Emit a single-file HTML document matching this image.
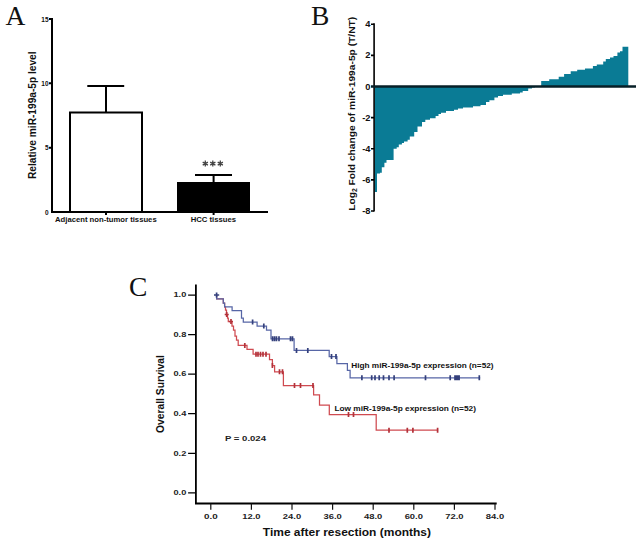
<!DOCTYPE html>
<html><head><meta charset="utf-8">
<style>
html,body{margin:0;padding:0;background:#fff;}
body{width:642px;height:543px;overflow:hidden;position:relative;}
svg{position:absolute;left:0;top:0;}
text{font-family:"Liberation Sans",sans-serif;}
.serif{font-family:"Liberation Serif",serif;}
</style></head><body>
<svg width="642" height="543" viewBox="0 0 642 543">
<rect width="642" height="543" fill="#fff"/>

<!-- ===== Panel A ===== -->
<text class="serif" x="5.5" y="25.2" font-size="27.5" fill="#111">A</text>
<g stroke="#000" stroke-width="2" fill="none">
  <path d="M52,18V213"/>
  <path d="M51,212H268"/>
  <path d="M49,19H52M49,83.3H52M49,147.7H52"/>
  <path d="M106,212V215M213.6,212V215"/>
  <rect x="70" y="112.5" width="72" height="99.5" fill="#fff"/>
  <path d="M106,86V112.5M87.3,86H124.2"/>
  <path d="M213.6,175V182M195,175H232"/>
</g>
<rect x="177" y="182" width="73" height="30" fill="#000"/>
<g font-weight="bold" fill="#111" text-anchor="end" font-size="6.5">
  <text x="48.5" y="21.5">15</text>
  <text x="48.5" y="85.8">10</text>
  <text x="48.5" y="150.2">5</text>
  <text x="48.5" y="214.5">0</text>
</g>
<g stroke="#444" stroke-width="1.3" fill="none"><path d="M205.3,160.6V166.6M202.7,162.1L207.9,165.1M202.7,165.1L207.9,162.1"/><path d="M212.8,160.6V166.6M210.2,162.1L215.4,165.1M210.2,165.1L215.4,162.1"/><path d="M220.3,160.6V166.6M217.7,162.1L222.9,165.1M217.7,165.1L222.9,162.1"/></g>
<g font-weight="bold" fill="#111" font-size="7.7">
  <text x="55" y="222">Adjacent non-tumor tissues</text>
  <text x="190.7" y="222">HCC tissues</text>
</g>
<text transform="translate(36,179) rotate(-90)" font-size="10" font-weight="bold" fill="#111" textLength="127.6" lengthAdjust="spacingAndGlyphs">Relative miR-199a-5p level</text>

<!-- ===== Panel B ===== -->
<text class="serif" x="311" y="24.8" font-size="27.5" fill="#111">B</text>
<path fill="#0a7b95" d="M374.6,86.5V192H377V173.5H380V172.8H381.8V167.3H384.4V162.7H386.5V160.1H393.6V148.8H396.7V147.2H398.8V144.6H401.9V143H404V141.5H407.6V139.7H409.8V136.4H414.2V132H417.5V126.4H422V122H425.3V119.8H430V118.3H435.6V116H438.5V114H441V112.7H446V111H454V109.8H458V108.5H463V107.5H473V106.3H480.5V105H486V102H489.4V100.3H494.4V97.4H498V96H503V94.8H511.8V93.5H520V92.5H522.7V91H528.2V88.4H532V87.5H535V86.5Z"/>
<path fill="#0a7b95" d="M541.2,86.5V80.9H549.2V79.2H558.7V76.7H564.1V74.1H570.7V71.2H577.2V69.7H585V68.5H592.9V66H596.8V64.5H603.2V61.5H605.8V59H610V57.5H613.5V56H617.4V52.6H620V51.3H622.5V46.8H628.3V86.5Z"/>
<g stroke="#000" stroke-width="1.6" fill="none">
  <path d="M374.1,23.3V211.5"/>
  <path d="M371,24.3H374M371,55.4H374M371,117.6H374M371,148.7H374M371,179.9H374M371,211H374"/>
</g>
<path d="M371,86.5H636" stroke="#071f27" stroke-width="2.6"/>
<g font-weight="bold" fill="#111" text-anchor="end" font-size="9.3">
  <text x="370.5" y="27.3">4</text>
  <text x="370.5" y="58.4">2</text>
  <text x="370.5" y="89.5">0</text>
  <text x="370.5" y="120.6">-2</text>
  <text x="370.5" y="151.7">-4</text>
  <text x="370.5" y="182.9">-6</text>
  <text x="370.5" y="214">-8</text>
</g>
<text transform="translate(355.2,210.8) rotate(-90)" font-size="9.9" font-weight="bold" fill="#111" textLength="194" lengthAdjust="spacingAndGlyphs">Log<tspan font-size="6.5" dy="2">2</tspan><tspan dy="-2"> Fold change of miR-199a-5p (T/NT)</tspan></text>

<!-- ===== Panel C ===== -->
<text class="serif" x="129" y="295.5" font-size="27.5" fill="#111">C</text>
<g stroke="#000" stroke-width="1.8" fill="none">
  <path d="M195.9,284.4V503.5"/>
  <path d="M195,503.5H496.7"/>
  <path d="M188.1,295.1H195.9M188.1,334.6H195.9M188.1,374.2H195.9M188.1,413.7H195.9M188.1,453.3H195.9M188.1,492.8H195.9" stroke-width="1.2"/>
</g>
<g stroke="#111" stroke-width="1.2" fill="none">
  <path d="M210.8,503.5V509.8M251.4,503.5V509.8M292.0,503.5V509.8M332.6,503.5V509.8M373.2,503.5V509.8M413.8,503.5V509.8M454.4,503.5V509.8M495.0,503.5V509.8"/>
</g>
<g font-weight="bold" fill="#222" text-anchor="end" font-size="7.8">
  <text x="186.3" y="297.3" textLength="12.8" lengthAdjust="spacingAndGlyphs">1.0</text>
  <text x="186.3" y="336.8" textLength="12.8" lengthAdjust="spacingAndGlyphs">0.8</text>
  <text x="186.3" y="376.4" textLength="12.8" lengthAdjust="spacingAndGlyphs">0.6</text>
  <text x="186.3" y="415.9" textLength="12.8" lengthAdjust="spacingAndGlyphs">0.4</text>
  <text x="186.3" y="455.5" textLength="12.8" lengthAdjust="spacingAndGlyphs">0.2</text>
  <text x="186.3" y="495.0" textLength="12.8" lengthAdjust="spacingAndGlyphs">0.0</text>
</g>
<g font-weight="bold" fill="#222" text-anchor="middle" font-size="7.8">
  <text x="210.8" y="518.8" textLength="13.7" lengthAdjust="spacingAndGlyphs">0.0</text>
  <text x="251.4" y="518.8" textLength="18.3" lengthAdjust="spacingAndGlyphs">12.0</text>
  <text x="292.0" y="518.8" textLength="18.3" lengthAdjust="spacingAndGlyphs">24.0</text>
  <text x="332.6" y="518.8" textLength="18.3" lengthAdjust="spacingAndGlyphs">36.0</text>
  <text x="373.2" y="518.8" textLength="18.3" lengthAdjust="spacingAndGlyphs">48.0</text>
  <text x="413.8" y="518.8" textLength="18.3" lengthAdjust="spacingAndGlyphs">60.0</text>
  <text x="454.4" y="518.8" textLength="18.3" lengthAdjust="spacingAndGlyphs">72.0</text>
  <text x="495.0" y="518.8" textLength="18.3" lengthAdjust="spacingAndGlyphs">84.0</text>
</g>
<text x="262.8" y="536" font-size="10.6" font-weight="bold" fill="#111" textLength="168.2" lengthAdjust="spacingAndGlyphs">Time after resection (months)</text>
<text transform="translate(164.2,433) rotate(-90)" font-size="10.3" font-weight="bold" fill="#111">Overall Survival</text>

<!-- KM curves -->
<path fill="none" stroke="#cf4a50" stroke-width="1.25" d="M216.6,295V298.8H223.3V303H224.6V306.9H225.5V310H226.5V314.5H227.5V318H228.3V321.5H232V326H233.5V330H235V336H236.5V340H238.2V345.4H247V349.3H253.1V354.2H269.5V359.7H272.4V365.5H274.6V371.8H283.4V385.6H313.6V394.9H319.5V405H329.3V414.6H376.2V430.2H438.1"/>
<path fill="none" stroke="#b3323a" stroke-width="1.7" d="M224.7,314.5H228.7M229,321.5H233M226.7,312V317M231,319V324M244.8,343V348M256,351.7V356.7M258,351.7V356.7M260.5,351.7V356.7M263,351.7V356.7M266,351.7V356.7M272.4,363V368M279.5,369.3V374.3M282.5,369.3V374.3M294.5,383.1V388.1M300.5,383.1V388.1M313,383.1V388.1M348.5,412.1V417.1M353.5,412.1V417.1M389,427.7V432.7M407.3,427.7V432.7M412.9,427.7V432.7M437.6,427.7V432.7"/>
<path fill="none" stroke="#5766a6" stroke-width="1.25" d="M216.6,295V298.8H223.3V303H224.6V306.9H232.1V310.5H241.5V318H243.3V322.1H257.1V326H266.5V330H271V338.8H294.1V350.4H329.2V356.5H336.9V363.6H347.4V370.3H350.1V377.8H480.2"/>
<path fill="none" stroke="#34407c" stroke-width="1.7" d="M214,295H219.2M216.6,292.5V297.5M252.6,319.6V324.6M263.8,323.5V328.5M272.5,336.3V341.3M274.5,336.3V341.3M276.5,336.3V341.3M279,336.3V341.3M290.5,336.3V341.3M292.5,336.3V341.3M296.5,347.9V352.9M307.8,347.9V352.9M331.5,354V359M336,354V359M361.9,375.3V380.3M371.7,375.3V380.3M375,375.3V380.3M379.2,375.3V380.3M383.5,375.3V380.3M389,375.3V380.3M394.1,375.3V380.3M425.5,375.3V380.3M450.2,375.3V380.3M455,375.3V380.3M456.3,375.3V380.3M457.7,375.3V380.3M459.1,375.3V380.3M479.3,375.3V380.3"/>

<g font-weight="bold" fill="#111" font-size="8.25">
  <text x="351.2" y="368.3" font-size="7.1" textLength="142.4" lengthAdjust="spacingAndGlyphs">High miR-199a-5p expression (n=52)</text>
  <text x="334.4" y="410.8" font-size="7.1" textLength="141.6" lengthAdjust="spacingAndGlyphs">Low miR-199a-5p expression (n=52)</text>
</g>
<text x="225" y="441.4" font-size="7.9" font-weight="bold" fill="#222" textLength="41" lengthAdjust="spacingAndGlyphs">P = 0.024</text>
</svg>
</body></html>
